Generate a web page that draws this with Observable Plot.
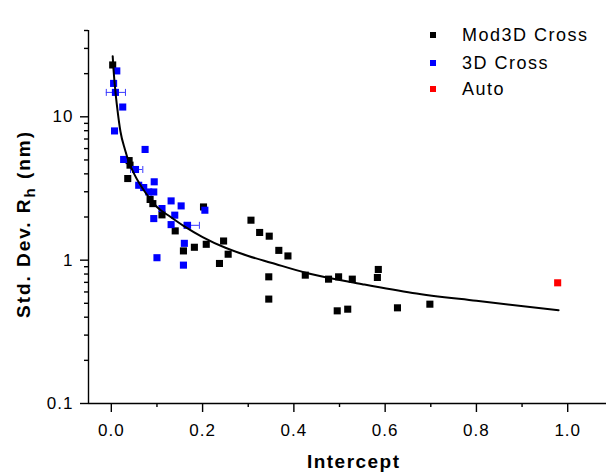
<!DOCTYPE html>
<html><head><meta charset="utf-8">
<script src="https://cdn.jsdelivr.net/npm/d3@7"></script>
<script src="https://cdn.jsdelivr.net/npm/@observablehq/plot@0.6"></script>
<style>
body{margin:0;background:#fff;}
#wrap{position:relative;width:606px;height:473px;font-family:"Liberation Sans",Arial,sans-serif;}
.lsq{position:absolute;width:6px;height:6px;}
.ltx{position:absolute;font-size:18px;letter-spacing:1.5px;line-height:20px;height:20px;white-space:nowrap;color:#000;}
</style></head><body><div id="wrap"></div>
<script>
// Mod3D Cross series
const modX = [0.003,0.039,0.041,0.036,0.085,0.091,0.111,0.140,0.158,0.182,0.208,0.202,0.246,0.256,0.237,0.306,0.325,0.346,0.367,0.387,0.345,0.345,0.425,0.476,0.498,0.528,0.495,0.518,0.585,0.583,0.627,0.698];
const modY = [23,4.95,4.6,3.71,2.65,2.48,2.07,1.60,1.16,1.23,1.29,2.35,1.36,1.10,0.948,1.90,1.56,1.47,1.17,1.07,0.765,0.535,0.786,0.737,0.765,0.737,0.443,0.455,0.861,0.757,0.465,0.493];
// 3D Cross series
const crossX = [0.012,0.005,0.009,0.025,0.007,0.074,0.027,0.053,0.060,0.071,0.082,0.093,0.094,0.111,0.093,0.131,0.153,0.139,0.131,0.167,0.160,0.100,0.158,0.205];
const crossY = [20.9,17.1,14.8,11.7,7.97,5.92,5.04,4.29,3.33,3.21,2.99,2.99,3.52,2.29,1.95,2.59,2.39,2.06,1.77,1.75,1.31,1.04,0.923,2.23];
// Auto series
const autoX = [0.978];
const autoY = [0.695];
// x error bars on some 3D Cross points
const errX = [0.009,0.053,0.167];
const errY = [14.8,4.29,1.75];
const errLo = [0.020,0.011,0.008];
const errHi = [0.022,0.016,0.026];
// fitted curve
const fitX = [0.003,0.005,0.009,0.013,0.02,0.03,0.04,0.05,0.075,0.1,0.13,0.16,0.2,0.25,0.3,0.35,0.43,0.55,0.66,0.8,0.98];
const fitY = [26.5,21,15,11.5,7.9,5.9,4.7,4.0,2.95,2.35,2.0,1.72,1.45,1.22,1.07,0.96,0.81,0.68,0.59,0.52,0.448];
// ticks
const xMajor = [0,0.2,0.4,0.6,0.8,1.0];
const xMinor = [0.1,0.3,0.5,0.7,0.9];
const yMajor = [0.1,1,10];
const yMinor = [0.2,0.3,0.4,0.5,0.6,0.7,0.8,0.9,2,3,4,5,6,7,8,9,20,30,40];
const seriesNames = ["Mod3D Cross","3D Cross","Auto"];
const seriesColors = ["#000000","#0000ff","#ff0000"];

const mod = modX.map((x,i)=>({x,y:modY[i]}));
const cross = crossX.map((x,i)=>({x,y:crossY[i]}));
const auto = autoX.map((x,i)=>({x,y:autoY[i]}));
const err = errX.map((x,i)=>({x,y:errY[i],x1:x-errLo[i],x2:x+errHi[i]}));
const fit = fitX.map((x,i)=>({x,y:fitY[i]}));

const vbar = {draw(ctx,size){const h=Math.sqrt(size/Math.PI);ctx.moveTo(0,-h);ctx.lineTo(0,h);}};
const axisStyle = {strokeWidth:1.4};

const plot = Plot.plot({
  width:606, height:473, marginLeft:88, marginRight:0, marginTop:30, marginBottom:70,
  style:{fontFamily:"'Liberation Sans',Arial,sans-serif", fontSize:"17px", color:"#000", background:"#fff", letterSpacing:"1px"},
  x:{domain:[-0.05,1.085]},
  y:{type:"log", domain:[0.1,40]},
  marks:[
    Plot.axisX(xMinor,{tickSize:4, tickFormat:()=>"", label:null, ...axisStyle}),
    Plot.axisX(xMajor,{tickSize:9, tickPadding:11.5, tickFormat:d3.format(".1f"), label:null, ...axisStyle}),
    Plot.axisY(yMinor,{tickSize:4, tickFormat:()=>"", label:null, ...axisStyle}),
    Plot.axisY(yMajor,{tickSize:8, tickPadding:7, tickFormat:d=>String(d), label:null, ...axisStyle}),
    Plot.ruleX([-0.05],{strokeWidth:1.4}),
    Plot.ruleY([0.1],{strokeWidth:1.4}),
    Plot.ruleY(err,{y:"y",x1:"x1",x2:"x2",stroke:"#3a3aff",strokeWidth:1}),
    Plot.dot(err,{x:"x1",y:"y",symbol:vbar,r:3.5,stroke:"#3a3aff",strokeWidth:1,fill:"none"}),
    Plot.dot(err,{x:"x2",y:"y",symbol:vbar,r:3.5,stroke:"#3a3aff",strokeWidth:1,fill:"none"}),
    Plot.dot(mod,{x:"x",y:"y",symbol:"square",r:4,fill:seriesColors[0]}),
    Plot.dot(cross,{x:"x",y:"y",symbol:"square",r:4,fill:seriesColors[1]}),
    Plot.dot(auto,{x:"x",y:"y",symbol:"square",r:4,fill:seriesColors[2]}),
    Plot.line(fit,{x:"x",y:"y",curve:"monotone-x",stroke:"#000",strokeWidth:2})
  ]
});

const svg = d3.select(plot);
const yl = svg.append("text")
  .attr("transform","translate(30,225) rotate(-90)")
  .attr("text-anchor","middle")
  .attr("textLength",186).attr("lengthAdjust","spacing")
  .style("font-family","'Liberation Sans',Arial,sans-serif")
  .style("font-size","19px").style("font-weight","bold").style("letter-spacing","0px")
  .attr("fill","#000");
yl.append("tspan").text("Std. Dev. R");
yl.append("tspan").attr("dy","5").style("font-size","15px").text("h");
yl.append("tspan").attr("dy","-5").text(" (nm)");
svg.append("text").attr("x",353).attr("y",468).attr("text-anchor","middle")
  .attr("textLength",92).attr("lengthAdjust","spacing")
  .style("font-family","'Liberation Sans',Arial,sans-serif")
  .style("font-size","19px").style("font-weight","bold").style("letter-spacing","0px")
  .attr("fill","#000").text("Intercept");

const wrap = document.getElementById("wrap");
wrap.appendChild(plot);
const legY = [35,62.5,89];
seriesNames.forEach((n,i)=>{
  const s=document.createElement("div"); s.className="lsq";
  s.style.left="430px"; s.style.top=(legY[i]-3)+"px"; s.style.background=seriesColors[i];
  wrap.appendChild(s);
  const t=document.createElement("div"); t.className="ltx";
  t.style.left="462px"; t.style.top=(legY[i]-10)+"px"; t.textContent=n;
  wrap.appendChild(t);
});
</script></body></html>
